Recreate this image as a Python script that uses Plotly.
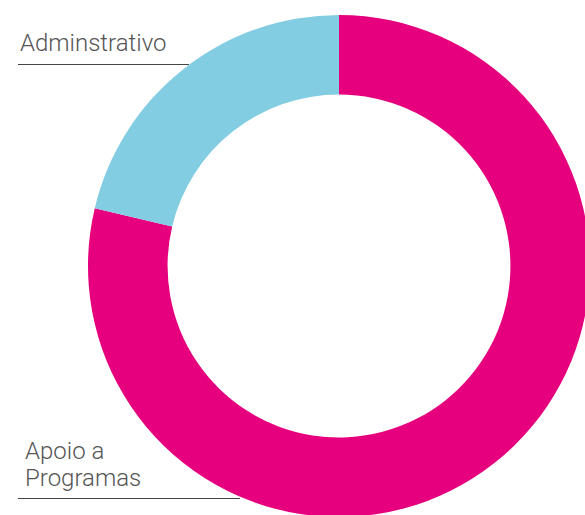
import plotly.graph_objects as go

labels = ["Apoio a Programas", "Adminstrativo"]
values = [78.7, 21.3]
colors = ["#E6007E", "#83CDE3"]

# layout geometry (pixels)
W, H = 590, 517
L, T = 88, 15
PW, PH = 502, 502


def px_x(x):
    return (x - L) / PW


def px_y(y):
    return 1 - (y - T) / PH


fig = go.Figure(
    go.Pie(
        labels=labels,
        values=values,
        hole=0.683,
        sort=False,
        direction="clockwise",
        rotation=0,
        marker=dict(colors=colors, line=dict(width=0)),
        textinfo="none",
        hoverinfo="label+percent",
        showlegend=False,
    )
)

font = dict(family="Roboto", size=24, color="#555555", weight=300)

fig.add_annotation(text="Adminstrativo", x=px_x(18), y=px_y(43), xref="paper", yref="paper",
                   xanchor="left", yanchor="middle", showarrow=False, font=font)
fig.add_annotation(text="Apoio a", x=px_x(23), y=px_y(451), xref="paper", yref="paper",
                   xanchor="left", yanchor="middle", showarrow=False, font=font)
fig.add_annotation(text="Programas", x=px_x(23), y=px_y(478), xref="paper", yref="paper",
                   xanchor="left", yanchor="middle", showarrow=False, font=font)

fig.add_shape(type="line", xref="paper", yref="paper", x0=px_x(18), x1=px_x(189),
              y0=px_y(64.5), y1=px_y(64.5), line=dict(color="#444444", width=1), layer="below")
fig.add_shape(type="line", xref="paper", yref="paper", x0=px_x(18), x1=px_x(240),
              y0=px_y(498.5), y1=px_y(498.5), line=dict(color="#444444", width=1), layer="below")

fig.update_layout(
    width=W,
    height=H,
    margin=dict(l=L, r=W - L - PW, t=T, b=H - T - PH, autoexpand=False),
    paper_bgcolor="white",
    plot_bgcolor="white",
)

fig.write_html(
    "out.html",
    post_script="document.documentElement.style.overflow='hidden';document.body.style.overflow='hidden';",
)
